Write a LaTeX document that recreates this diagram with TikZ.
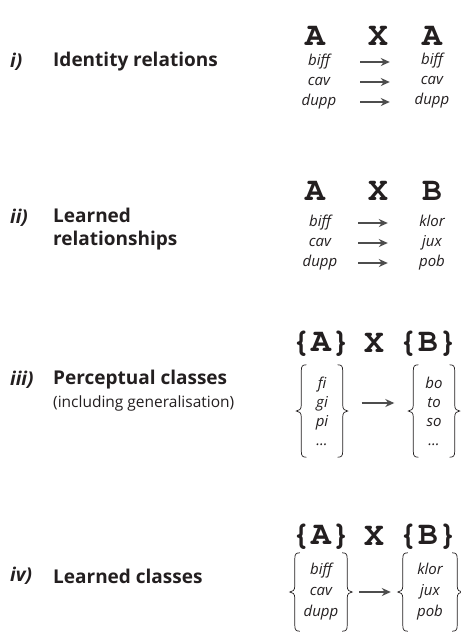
\documentclass[tikz,border=0pt]{standalone}
\usepackage[T1,TU]{fontenc}
\usepackage{fontspec}
\setmainfont{Open Sans}
\usetikzlibrary{arrows.meta,calc}
\definecolor{ink}{HTML}{231F20}
\definecolor{arr}{HTML}{4D4D4D}
\newcommand\hdfont{\fontencoding{T1}\fontfamily{pcr}\fontseries{b}\fontshape{n}\fontsize{33}{33}\selectfont}
\tikzset{
  num/.style={anchor=west, font=\fontsize{19}{20}\selectfont\bfseries\itshape, text=ink, inner sep=0pt},
  lbl/.style={anchor=west, font=\fontsize{19}{23}\selectfont\bfseries, text=ink, inner sep=0pt, align=left},
  sub/.style={anchor=west, font=\fontsize{15.5}{16}\selectfont, text=ink, inner sep=0pt},
  hd/.style={font=\hdfont, text=ink, inner sep=0pt},
  itm/.style={font=\fontsize{15}{18}\selectfont\itshape, text=ink, inner sep=0pt,
              text height=10.5pt, text depth=3.5pt, minimum width=44pt},
  col/.style={font=\fontsize{15}{#1}\selectfont\itshape, text=ink, inner sep=0pt, align=center},
  rel/.style={draw=arr, line width=1.3pt, -{Stealth[length=9pt,width=8pt]}},
  brc/.style={draw=ink, line width=0.7pt},
}
\newcommand\BrW[1]{%
  \draw[brc] let \p1=(#1.north west), \p2=(#1.south west), \p3=(#1.west) in
   (\x1+5pt,\y1) .. controls (\x1+1pt,\y1) and (\x1,\y1-1.5pt) .. (\x1,\y1-6pt)
   -- (\x1,\y3+6pt) .. controls (\x1,\y3+2pt) and (\x1-2pt,\y3) .. (\x1-5pt,\y3)
   .. controls (\x1-2pt,\y3) and (\x1,\y3-2pt) .. (\x1,\y3-6pt)
   -- (\x2,\y2+6pt) .. controls (\x2,\y2+1.5pt) and (\x2+1pt,\y2) .. (\x2+5pt,\y2);}
\newcommand\BrE[1]{%
  \draw[brc] let \p1=(#1.north east), \p2=(#1.south east), \p3=(#1.east) in
   (\x1-5pt,\y1) .. controls (\x1-1pt,\y1) and (\x1,\y1-1.5pt) .. (\x1,\y1-6pt)
   -- (\x1,\y3+6pt) .. controls (\x1,\y3+2pt) and (\x1+2pt,\y3) .. (\x1+5pt,\y3)
   .. controls (\x1+2pt,\y3) and (\x1,\y3-2pt) .. (\x1,\y3-6pt)
   -- (\x2,\y2+6pt) .. controls (\x2,\y2+1.5pt) and (\x2-1pt,\y2) .. (\x2-5pt,\y2);}
\begin{document}
\begin{tikzpicture}[x=1pt,y=-1pt]
\useasboundingbox[fill=white] (0,0) rectangle (461,633);

% ---------- i) ----------
\node[num] (n1) at (10,62) {i)};
\node[lbl] (t1) at (53,62) {Identity relations};
\node[hd] (h1a) at (315,36) {A};
\node[hd] (h1x) at (378,36) {X};
\node[hd] (h1b) at (432,36) {A};
\node[itm] (a11) at (319,62) {biff};
\node[itm] (a12) at (319,82) {cav};
\node[itm] (a13) at (319,102) {dupp};
\node[itm] (b11) at (432,61) {biff};
\node[itm] (b12) at (432,81) {cav};
\node[itm] (b13) at (432,101) {dupp};
\draw[rel, shorten <=19pt, shorten >=20pt] (a11.east) -- (a11.east -| b11.west);
\draw[rel, shorten <=19pt, shorten >=20pt] (a12.east) -- (a12.east -| b12.west);
\draw[rel, shorten <=19pt, shorten >=20pt] (a13.east) -- (a13.east -| b13.west);

% ---------- ii) ----------
\node[num] (n2) at (10,218) {ii)};
\node[lbl] (t2) at (53,229.5) {Learned\\relationships};
\node[hd] (h2a) at (315,191) {A};
\node[hd] (h2x) at (378,191) {X};
\node[hd] (h2b) at (432,191) {B};
\node[itm] (a21) at (320,223) {biff};
\node[itm] (a22) at (320,243) {cav};
\node[itm] (a23) at (320,263) {dupp};
\node[itm] (b21) at (432,223) {klor};
\node[itm] (b22) at (432,243) {jux};
\node[itm] (b23) at (432,263) {pob};
\draw[rel, shorten <=16pt, shorten >=22pt] (a21.east) -- (b21.west);
\draw[rel, shorten <=16pt, shorten >=22pt] (a22.east) -- (b22.west);
\draw[rel, shorten <=16pt, shorten >=22pt] (a23.east) -- (b23.west);

% ---------- iii) ----------
\node[num] (n3) at (10,380) {iii)};
\node[lbl] (t3) at (53,380) {Perceptual classes};
\node[sub] (s3) at (53,403) {(including generalisation)};
\node[hd] (h3a) at (321,343) {\{A\}};
\node[hd] (h3x) at (374,343) {X};
\node[hd] (h3b) at (428,343) {\{B\}};
\node[col=19, minimum width=41pt, minimum height=92pt] (A3) at (322,411)
  {fi\\gi\\pi\\...};
\node[col=19, minimum width=41pt, minimum height=92pt] (B3) at (434,411)
  {bo\\to\\so\\...};
\BrW{A3}\BrE{A3}\BrW{B3}\BrE{B3}
\draw[rel, shorten <=19pt, shorten >=19pt] ([yshift=8pt]A3.east) -- ([yshift=8pt]B3.west);

% ---------- iv) ----------
\node[num] (n4) at (10,576) {iv)};
\node[lbl] (t4) at (53,576) {Learned classes};
\node[hd] (h4a) at (321,536) {\{A\}};
\node[hd] (h4x) at (374,536) {X};
\node[hd] (h4b) at (428,536) {\{B\}};
\node[col=21, minimum width=52pt, minimum height=78pt] (A4) at (321,592)
  {biff\\cav\\dupp};
\node[col=21, minimum width=54pt, minimum height=78pt] (B4) at (430,592)
  {klor\\jux\\pob};
\BrW{A4}\BrE{A4}\BrW{B4}\BrE{B4}
\draw[rel, shorten <=12pt, shorten >=12pt] (A4.east) -- (B4.west);
\end{tikzpicture}
\end{document}
